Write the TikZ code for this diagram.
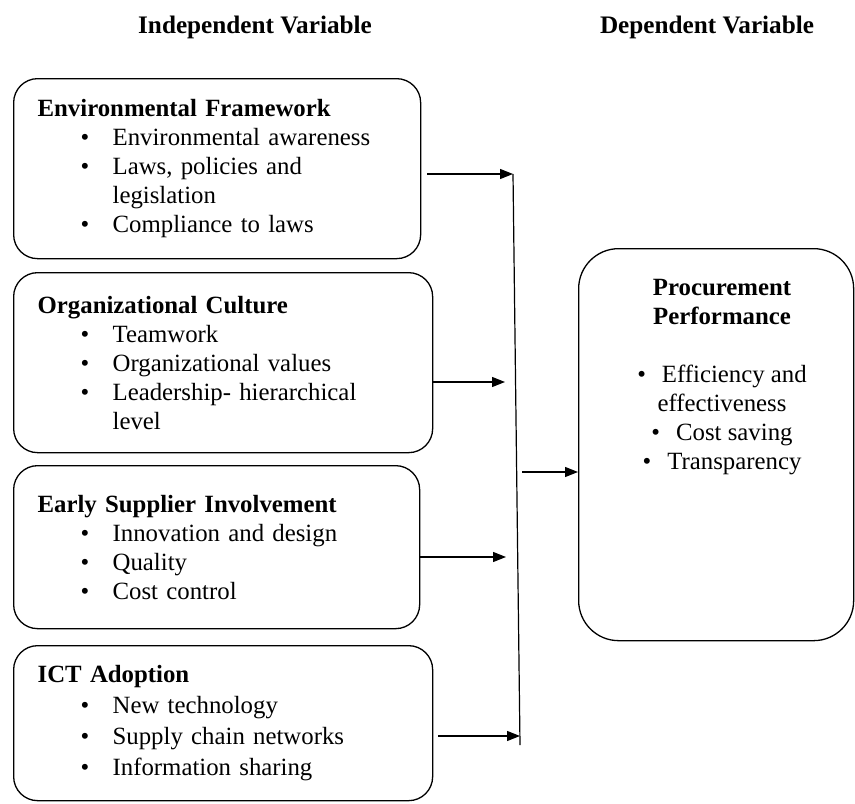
\documentclass[tikz,border=0pt]{standalone}
\usepackage{fontspec}
\setmainfont{Liberation Serif}
\usetikzlibrary{arrows.meta, positioning, calc}

% list lines inside the boxes
\newcommand{\itm}[1]{\\\hspace*{21.5pt}\makebox[16pt][l]{\textbullet}#1}
\newcommand{\cnt}[1]{\\\hspace*{37.5pt}#1}

\begin{document}
\begin{tikzpicture}[x=0.5pt, y=-0.5pt, font=\fontsize{12.4pt}{14.5pt}\selectfont,
  varbox/.style={draw, line width=0.65pt, rounded corners=12pt, anchor=north west,
    align=left, inner xsep=12pt, inner ysep=0pt},
  link/.style={line width=0.6pt, -{Triangle[length=6.5pt,width=5pt]}}]
  \useasboundingbox (0,0) rectangle (855,803);
  % column headings
  \node[font=\fontsize{12.6pt}{14.5pt}\selectfont\bfseries] (indep) at (255,27) {Independent Variable};
  \node[font=\fontsize{12.6pt}{14.5pt}\selectfont\bfseries] (dep) at (707,27) {Dependent Variable};
  % independent variables
  \node[varbox, text width=179.5pt, minimum height=90pt] (env) at (13,78)
    {\textbf{Environmental Framework}
     \itm{Environmental awareness}
     \itm{Laws, policies and}
     \cnt{legislation}
     \itm{Compliance to laws}};
  \node[varbox, text width=185.5pt, minimum height=90pt] (org) at (13,272)
    {\textbf{Organizational Culture}
     \itm{Teamwork}
     \itm{Organizational values}
     \itm{Leadership- hierarchical}
     \cnt{level}};
  \node[varbox, text width=179pt, minimum height=81.5pt] (esi) at (13,465)
    {\textbf{Early Supplier Involvement}
     \itm{Innovation and design}
     \itm{Quality}
     \itm{Cost control}};
  \node[varbox, text width=185.5pt, minimum height=77.5pt,
        font=\fontsize{12.4pt}{15.5pt}\selectfont] (ict) at (13,645)
    {\textbf{ICT Adoption}
     \itm{New technology}
     \itm{Supply chain networks}
     \itm{Information sharing}};
  % dependent variable
  \node[draw, line width=0.65pt, rounded corners=20pt, anchor=north west,
        minimum width=137.5pt, minimum height=196pt] (perf) at (578,248) {};
  \node[anchor=north, align=center] (perftxt) at (722,272)
    {\textbf{Procurement}\\\textbf{Performance}\\[14.5pt]
     \textbullet\hspace{8pt}Efficiency and\\effectiveness\\
     \textbullet\hspace{8pt}Cost saving\\
     \textbullet\hspace{8pt}Transparency};
  % collector line and arrows
  \coordinate (top) at (513,174);
  \coordinate (bot) at (520,745);
  \coordinate (in2) at (505,382);
  \coordinate (in3) at (506,557);
  \coordinate (in4) at (520,736);
  \coordinate (out) at (522,472);
  \draw[line width=0.6pt] (top) -- (bot);
  \draw[link] ($(top -| env.east)+(6,0)$) -- (top);
  \draw[link] (in2 -| org.east) -- (in2);
  \draw[link] (in3 -| esi.east) -- (in3);
  \draw[link] ($(in4 -| ict.east)+(5,0)$) -- (in4);
  \draw[link] (out) -- (out -| perf.west);
\end{tikzpicture}
\end{document}
